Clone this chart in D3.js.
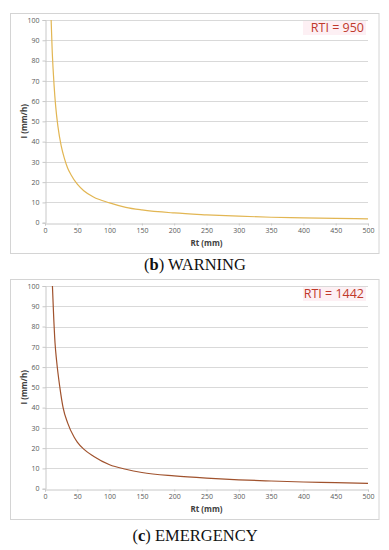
<!DOCTYPE html>
<html>
<head>
<meta charset="utf-8">
<script src="https://cdn.jsdelivr.net/npm/d3@7"></script>
<style>
  html, body { margin: 0; padding: 0; background: #ffffff; }
  svg { display: block; }
</style>
</head>
<body>
<svg id="chart" width="389" height="550"></svg>
<script>
// ---- data ----
const xTicks = [0, 50, 100, 150, 200, 250, 300, 350, 400, 450, 500];
const yTicks = [0, 10, 20, 30, 40, 50, 60, 70, 80, 90, 100];

const warningRt = [9.5, 11, 12.5, 14, 16.5, 20, 25, 30, 35, 40, 50, 60, 75, 100, 125, 150, 200, 250, 300, 350, 400, 450, 500];
const warningI  = [100, 86, 76, 68, 57.5, 47.5, 38, 31.7, 27, 23.8, 19, 15.8, 12.7, 9.8, 7.6, 6.3, 4.8, 3.9, 3.2, 2.7, 2.4, 2.1, 1.9];

const emergencyRt = [11.5, 13, 15.5, 18, 23, 28, 35, 45, 50, 60, 75, 100, 125, 150, 200, 250, 300, 350, 400, 450, 500];
const emergencyI  = [100, 88, 72, 63, 50, 40, 32.5, 25.5, 23, 19.5, 16, 11.8, 9.6, 8.0, 6.3, 5.2, 4.4, 3.8, 3.3, 3.0, 2.6];

const panelLabels = ["RTI = 950", "RTI = 1442"];
const captionLetters = ["b", "c"];
const captionNames = ["WARNING", "EMERGENCY"];
const xTitle = "Rt (mm)";
const yTitle = "I (mm/h)";

// ---- drawing ----
const svg = d3.select("#chart");
const panels = [
  { top: 13, rt: warningRt, I: warningI, color: "#e2b653", label: panelLabels[0], letter: captionLetters[0], name: captionNames[0], capY: 270 },
  { top: 279, rt: emergencyRt, I: emergencyI, color: "#a0522d", label: panelLabels[1], letter: captionLetters[1], name: captionNames[1], capY: 541 }
];

panels.forEach(p => {
  const g = svg.append("g");
  const boxL = 10, boxR = 378.5, boxH = 240;
  g.append("rect").attr("x", boxL + 0.5).attr("y", p.top + 0.5)
    .attr("width", boxR - boxL).attr("height", boxH)
    .attr("fill", "#fff").attr("stroke", "#d4d4d4").attr("stroke-width", 1);

  const x = d3.scaleLinear().domain([0, 500]).range([45, 368]);
  const y = d3.scaleLinear().domain([0, 100]).range([p.top + 209.7, p.top + 7]);

  // gridlines
  g.append("g").selectAll("line").data(yTicks.filter(v => v > 0)).join("line")
    .attr("x1", x(0)).attr("x2", x(500))
    .attr("y1", d => Math.round(y(d)) + 0.5).attr("y2", d => Math.round(y(d)) + 0.5)
    .attr("stroke", "#d9d9d9").attr("stroke-width", 1);

  // y axis
  const yAxis = g.append("g").attr("transform", `translate(${Math.round(x(0)) + 0.5},0)`)
    .call(d3.axisLeft(y).tickValues(yTicks).tickSize(3).tickPadding(3));
  // x axis
  const xAxis = g.append("g").attr("transform", `translate(0,${Math.round(y(0)) + 0.5})`)
    .call(d3.axisBottom(x).tickValues(xTicks).tickSize(2).tickPadding(2.5));
  [yAxis, xAxis].forEach(a => {
    a.select(".domain").attr("stroke", "#c8c8c8");
    a.selectAll(".tick line").attr("stroke", "#c8c8c8");
    a.selectAll("text").attr("fill", "#595959").attr("font-size", 7)
      .attr("font-family", "'Open Sans', 'Liberation Sans', sans-serif");
  });

  // axis titles
  g.append("text").attr("x", (x(0) + x(500)) / 2).attr("y", y(0) + 23.5)
    .attr("text-anchor", "middle").attr("font-size", 8).attr("font-weight", "bold")
    .attr("fill", "#404040").attr("font-family", "'Open Sans', 'Liberation Sans', sans-serif")
    .text(xTitle);
  g.append("text").attr("transform", `translate(27,${(y(0) + y(100)) / 2}) rotate(-90)`)
    .attr("text-anchor", "middle").attr("font-size", 8).attr("font-weight", "bold")
    .attr("fill", "#404040").attr("font-family", "'Open Sans', 'Liberation Sans', sans-serif")
    .text(yTitle);

  // curve
  const pts = p.rt.map((r, i) => [r, p.I[i]]);
  g.append("path").datum(pts)
    .attr("d", d3.line().x(d => x(d[0])).y(d => y(d[1])).curve(d3.curveMonotoneX))
    .attr("fill", "none").attr("stroke", p.color).attr("stroke-width", 1.2);

  // RTI label
  g.append("rect").attr("x", 303).attr("y", p.top + 8).attr("width", 63).attr("height", 14)
    .attr("fill", "#fdf0f4");
  g.append("text").attr("x", 364).attr("y", p.top + 19)
    .attr("text-anchor", "end").attr("font-size", 12.5)
    .attr("fill", "#c0392b").attr("font-family", "'Open Sans', 'Liberation Sans', sans-serif")
    .text(p.label);

  // caption
  const cap = svg.append("text").attr("x", 195).attr("y", p.capY)
    .attr("text-anchor", "middle").attr("font-size", 16.5)
    .attr("fill", "#111").attr("font-family", "'Liberation Serif', 'DejaVu Serif', serif");
  cap.append("tspan").text("(");
  cap.append("tspan").attr("font-weight", "bold").text(p.letter);
  cap.append("tspan").text(") " + p.name);
});
</script>
</body>
</html>
